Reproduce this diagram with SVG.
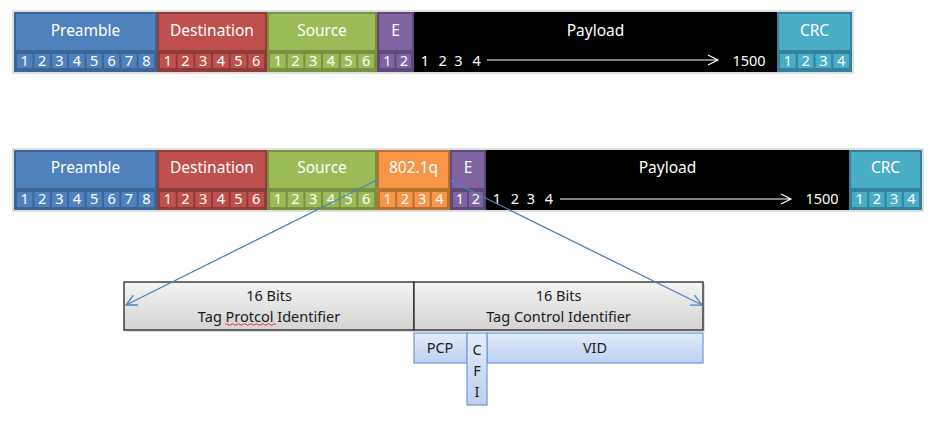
<svg xmlns="http://www.w3.org/2000/svg" width="940" height="422" viewBox="0 0 940 422">
<defs>
<style>
text{font-family:"Noto Sans","Open Sans","Liberation Sans",sans-serif}
.lbl{font-size:15.5px;fill:#fff;text-anchor:middle}
.d{font-size:14.5px;fill:#fff;text-anchor:middle}
.bt{font-size:14.5px;fill:#1a1a1a;text-anchor:middle}
.blue .o{fill:#3A6597}.blue .h,.blue .c{fill:#4F81BD}
.red .o{fill:#8E3B39}.red .h,.red .c{fill:#C0504D}
.green .o{fill:#76913F}.green .h,.green .c{fill:#9BBB59}
.purple .o{fill:#5E4A7A}.purple .h,.purple .c{fill:#8064A2}
.teal .o{fill:#33819A}.teal .h,.teal .c{fill:#4BACC6}
.orange .o{fill:#B8702F}.orange .h,.orange .c{fill:#F79646}
.black .o{fill:#000}
.conn{stroke:#4F81BD;stroke-width:1.3;fill:none}
.gbox{fill:url(#gg);stroke:#262626;stroke-width:1.3}
.bbox{fill:url(#bg);stroke:#6F9AD6;stroke-width:1.2}
.arr{stroke:#fff;stroke-width:1.2;fill:none}
</style>
<linearGradient id="gg" x1="0" y1="0" x2="0" y2="1"><stop offset="0" stop-color="#F4F4F4"/><stop offset="1" stop-color="#D3D3D3"/></linearGradient>
<linearGradient id="bg" x1="0" y1="0" x2="0" y2="1"><stop offset="0" stop-color="#E3ECFA"/><stop offset="1" stop-color="#BCD0F0"/></linearGradient>
<marker id="ah" markerWidth="12" markerHeight="12" refX="11" refY="6" orient="auto" markerUnits="userSpaceOnUse"><path d="M0,0.5 L11,6 L0,11.5" fill="none" stroke="#4F81BD" stroke-width="1.3"/></marker>
</defs>

<!-- Row 1 frame -->
<rect x="13" y="11" width="840" height="62" fill="none" stroke="#BFBFBF" stroke-width="1"/>
<g id="r1-preamble" class="blue">
<rect class="o" x="14" y="12" width="143" height="60"/>
<rect class="h" x="16" y="14" width="139" height="36"/>
<rect class="c" x="17" y="54" width="15.4" height="14"/><rect class="c" x="34.4" y="54" width="15.4" height="14"/><rect class="c" x="51.8" y="54" width="15.4" height="14"/><rect class="c" x="69.1" y="54" width="15.4" height="14"/><rect class="c" x="86.5" y="54" width="15.4" height="14"/><rect class="c" x="103.9" y="54" width="15.4" height="14"/><rect class="c" x="121.3" y="54" width="15.4" height="14"/><rect class="c" x="138.6" y="54" width="15.4" height="14"/>
<text class="lbl" x="85.5" y="35.5">Preamble</text>
<text class="d" y="66"><tspan x="24.7">1</tspan><tspan x="42.1">2</tspan><tspan x="59.4">3</tspan><tspan x="76.8">4</tspan><tspan x="94.2">5</tspan><tspan x="111.6">6</tspan><tspan x="128.9">7</tspan><tspan x="146.3">8</tspan></text>
</g>
<g id="r1-destination" class="red">
<rect class="o" x="157" y="12" width="110" height="60"/>
<rect class="h" x="159" y="14" width="106" height="36"/>
<rect class="c" x="160" y="54" width="15.7" height="14"/><rect class="c" x="177.7" y="54" width="15.7" height="14"/><rect class="c" x="195.3" y="54" width="15.7" height="14"/><rect class="c" x="213" y="54" width="15.7" height="14"/><rect class="c" x="230.7" y="54" width="15.7" height="14"/><rect class="c" x="248.3" y="54" width="15.7" height="14"/>
<text class="lbl" x="212" y="35.5">Destination</text>
<text class="d" y="66"><tspan x="167.8">1</tspan><tspan x="185.5">2</tspan><tspan x="203.2">3</tspan><tspan x="220.8">4</tspan><tspan x="238.5">5</tspan><tspan x="256.2">6</tspan></text>
</g>
<g id="r1-source" class="green">
<rect class="o" x="267" y="12" width="110" height="60"/>
<rect class="h" x="269" y="14" width="106" height="36"/>
<rect class="c" x="270" y="54" width="15.7" height="14"/><rect class="c" x="287.7" y="54" width="15.7" height="14"/><rect class="c" x="305.3" y="54" width="15.7" height="14"/><rect class="c" x="323" y="54" width="15.7" height="14"/><rect class="c" x="340.7" y="54" width="15.7" height="14"/><rect class="c" x="358.3" y="54" width="15.7" height="14"/>
<text class="lbl" x="322" y="35.5">Source</text>
<text class="d" y="66"><tspan x="277.8">1</tspan><tspan x="295.5">2</tspan><tspan x="313.2">3</tspan><tspan x="330.8">4</tspan><tspan x="348.5">5</tspan><tspan x="366.2">6</tspan></text>
</g>
<g id="r1-e" class="purple">
<rect class="o" x="377" y="12" width="37" height="60"/>
<rect class="h" x="379" y="14" width="33" height="36"/>
<rect class="c" x="380" y="54" width="14.5" height="14"/><rect class="c" x="396.5" y="54" width="14.5" height="14"/>
<text class="lbl" x="395.5" y="35.5">E</text>
<text class="d" y="66"><tspan x="387.3">1</tspan><tspan x="403.8">2</tspan></text>
</g>
<g id="r1-payload" class="black">
<rect class="o" x="414" y="12" width="363" height="60"/>
<text class="lbl" x="595.5" y="35.5">Payload</text>
<text class="d" y="66"><tspan x="425">1</tspan><tspan x="442.7">2</tspan><tspan x="458.5">3</tspan><tspan x="476.7">4</tspan><tspan x="749">1500</tspan></text>
<path class="arr" d="M487,60 H718 M708,55 L718,60 L708,65"/>
</g>
<g id="r1-crc" class="teal">
<rect class="o" x="777" y="12" width="75" height="60"/>
<rect class="h" x="779" y="14" width="71" height="36"/>
<rect class="c" x="780" y="54" width="15.75" height="14"/><rect class="c" x="797.75" y="54" width="15.75" height="14"/><rect class="c" x="815.5" y="54" width="15.75" height="14"/><rect class="c" x="833.25" y="54" width="15.75" height="14"/>
<text class="lbl" x="814.5" y="35.5">CRC</text>
<text class="d" y="66"><tspan x="787.9">1</tspan><tspan x="805.6">2</tspan><tspan x="823.4">3</tspan><tspan x="841.1">4</tspan></text>
</g>

<!-- Row 2 -->
<rect x="13" y="149" width="910" height="62" fill="none" stroke="#BFBFBF" stroke-width="1"/>
<g id="r2-preamble" class="blue">
<rect class="o" x="14" y="150" width="143" height="60"/>
<rect class="h" x="16" y="152" width="139" height="36"/>
<rect class="c" x="17" y="192" width="15.4" height="15"/><rect class="c" x="34.4" y="192" width="15.4" height="15"/><rect class="c" x="51.8" y="192" width="15.4" height="15"/><rect class="c" x="69.1" y="192" width="15.4" height="15"/><rect class="c" x="86.5" y="192" width="15.4" height="15"/><rect class="c" x="103.9" y="192" width="15.4" height="15"/><rect class="c" x="121.3" y="192" width="15.4" height="15"/><rect class="c" x="138.6" y="192" width="15.4" height="15"/>
<text class="lbl" x="85.5" y="173">Preamble</text>
<text class="d" y="204"><tspan x="24.7">1</tspan><tspan x="42.1">2</tspan><tspan x="59.4">3</tspan><tspan x="76.8">4</tspan><tspan x="94.2">5</tspan><tspan x="111.6">6</tspan><tspan x="128.9">7</tspan><tspan x="146.3">8</tspan></text>
</g>
<g id="r2-destination" class="red">
<rect class="o" x="157" y="150" width="110" height="60"/>
<rect class="h" x="159" y="152" width="106" height="36"/>
<rect class="c" x="160" y="192" width="15.7" height="15"/><rect class="c" x="177.7" y="192" width="15.7" height="15"/><rect class="c" x="195.3" y="192" width="15.7" height="15"/><rect class="c" x="213" y="192" width="15.7" height="15"/><rect class="c" x="230.7" y="192" width="15.7" height="15"/><rect class="c" x="248.3" y="192" width="15.7" height="15"/>
<text class="lbl" x="212" y="173">Destination</text>
<text class="d" y="204"><tspan x="167.8">1</tspan><tspan x="185.5">2</tspan><tspan x="203.2">3</tspan><tspan x="220.8">4</tspan><tspan x="238.5">5</tspan><tspan x="256.2">6</tspan></text>
</g>
<g id="r2-source" class="green">
<rect class="o" x="267" y="150" width="110" height="60"/>
<rect class="h" x="269" y="152" width="106" height="36"/>
<rect class="c" x="270" y="192" width="15.7" height="15"/><rect class="c" x="287.7" y="192" width="15.7" height="15"/><rect class="c" x="305.3" y="192" width="15.7" height="15"/><rect class="c" x="323" y="192" width="15.7" height="15"/><rect class="c" x="340.7" y="192" width="15.7" height="15"/><rect class="c" x="358.3" y="192" width="15.7" height="15"/>
<text class="lbl" x="322" y="173">Source</text>
<text class="d" y="204"><tspan x="277.8">1</tspan><tspan x="295.5">2</tspan><tspan x="313.2">3</tspan><tspan x="330.8">4</tspan><tspan x="348.5">5</tspan><tspan x="366.2">6</tspan></text>
</g>
<g id="r2-8021q" class="orange">
<rect class="o" x="377" y="150" width="73" height="60"/>
<rect class="h" x="379" y="152" width="69" height="36"/>
<rect class="c" x="380" y="192" width="15.25" height="15"/><rect class="c" x="397.25" y="192" width="15.25" height="15"/><rect class="c" x="414.5" y="192" width="15.25" height="15"/><rect class="c" x="431.75" y="192" width="15.25" height="15"/>
<text class="lbl" x="413.5" y="173">802.1q</text>
<text class="d" y="204"><tspan x="387.6">1</tspan><tspan x="404.9">2</tspan><tspan x="422.1">3</tspan><tspan x="439.4">4</tspan></text>
</g>
<g id="r2-e" class="purple">
<rect class="o" x="450" y="150" width="36" height="60"/>
<rect class="h" x="452" y="152" width="32" height="36"/>
<rect class="c" x="453" y="192" width="14" height="15"/><rect class="c" x="469" y="192" width="14" height="15"/>
<text class="lbl" x="468" y="173">E</text>
<text class="d" y="204"><tspan x="460">1</tspan><tspan x="476">2</tspan></text>
</g>
<g id="r2-payload" class="black">
<rect class="o" x="486" y="150" width="363" height="60"/>
<text class="lbl" x="667.5" y="173">Payload</text>
<text class="d" y="204"><tspan x="497">1</tspan><tspan x="515">2</tspan><tspan x="531">3</tspan><tspan x="549">4</tspan><tspan x="822">1500</tspan></text>
<path class="arr" d="M560,199 H791 M781,194 L791,199 L781,204"/>
</g>
<g id="r2-crc" class="teal">
<rect class="o" x="849" y="150" width="73" height="60"/>
<rect class="h" x="851" y="152" width="69" height="36"/>
<rect class="c" x="852" y="192" width="15.25" height="15"/><rect class="c" x="869.25" y="192" width="15.25" height="15"/><rect class="c" x="886.5" y="192" width="15.25" height="15"/><rect class="c" x="903.75" y="192" width="15.25" height="15"/>
<text class="lbl" x="885.5" y="173">CRC</text>
<text class="d" y="204"><tspan x="859.6">1</tspan><tspan x="876.9">2</tspan><tspan x="894.1">3</tspan><tspan x="911.4">4</tspan></text>
</g>

<!-- Tag boxes -->
<g id="tpid">
<rect x="126" y="284" width="290" height="48" fill="#BFBFBF" opacity="0.6"/>
<rect class="gbox" x="124" y="282" width="290" height="48"/>
<text class="bt" x="269" y="300.5">16 Bits</text>
<text class="bt" x="269" y="321.5">Tag Protcol Identifier</text>
<path d="M225,324.5 q1.5,-1.5 3,0 t3,0 t3,0 t3,0 t3,0 t3,0 t3,0 t3,0 t3,0 t3,0 t3,0 t3,0 t3,0 t3,0 t3,0 t3,0 t3,0" fill="none" stroke="#E02020" stroke-width="0.9"/>
</g>
<g id="tci">
<rect x="416" y="284" width="289" height="48" fill="#BFBFBF" opacity="0.6"/>
<rect class="gbox" x="414" y="282" width="289" height="48"/>
<text class="bt" x="558.5" y="300.5">16 Bits</text>
<text class="bt" x="558.5" y="321.5">Tag Control Identifier</text>
</g>
<g id="pcp">
<rect class="bbox" x="414" y="333" width="53" height="30"/>
<text class="bt" x="440" y="353">PCP</text>
</g>
<g id="vid">
<rect class="bbox" x="487" y="333" width="216" height="30"/>
<text class="bt" x="595" y="353">VID</text>
</g>
<g id="cfi">
<rect class="bbox" x="467" y="333" width="20" height="72"/>
<text class="bt" x="477" y="355">C</text>
<text class="bt" x="477" y="376">F</text>
<text class="bt" x="477" y="397">I</text>
</g>

<!-- Connectors -->
<g id="connectors">
<line class="conn" x1="377" y1="180" x2="126" y2="305" marker-end="url(#ah)"/>
<line class="conn" x1="449" y1="180" x2="702" y2="305" marker-end="url(#ah)"/>
</g>
</svg>
